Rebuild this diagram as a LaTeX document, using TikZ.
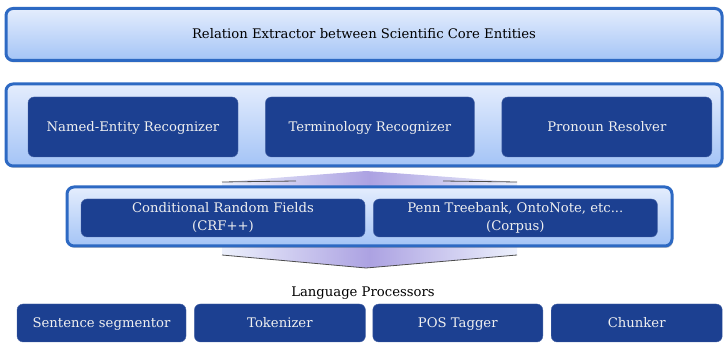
\documentclass[tikz,border=0pt]{standalone}
\usepackage{fontspec}
\setmainfont{DejaVu Serif}
\usepackage{tikz}
\usetikzlibrary{positioning, shadows, shapes.misc}
\definecolor{barline}{RGB}{45,105,195}
\definecolor{bartop}{RGB}{228,237,253}
\definecolor{barbot}{RGB}{164,196,246}
\definecolor{boxfill}{RGB}{28,64,145}
\definecolor{arrowmid}{RGB}{172,162,226}
\definecolor{arrowside}{RGB}{236,240,252}

\begin{document}
\begin{tikzpicture}
                      [x=1pt, y=-1pt, font=\fontsize{13.2}{18}\selectfont,
                       bar/.style={draw=barline, line width=3pt, rounded corners=7pt,
                                   top color=bartop, bottom color=barbot,
                                   drop shadow={shadow xshift=1pt, shadow yshift=-2pt, opacity=0.45}},
                       inbox/.style={fill=boxfill, draw=boxfill!80!white, rounded corners=6pt,
                                     text=white!94!black, align=center, inner sep=0pt},
                       oneline/.style={text height=2.1ex, text depth=.45ex},
                       procbox/.style={inbox, oneline, minimum height=38pt}]
                      \useasboundingbox (0,0) rectangle (726,344);

                      % arrow behind middle bar %
                      \shade[left color=arrowside, right color=arrowside, middle color=arrowmid]
                        (222,182) -- (366,171) -- (517,182) -- (517,255) -- (366,268) -- (222,255) -- cycle;
                      \draw[gray!60!black, line width=0.8pt] (222,182) -- (296,181);
                      \draw[gray!60!black, line width=0.8pt] (443,181) -- (517,182);
                      \draw[gray!60!black, line width=0.8pt] (222,255) -- (366,268) -- (517,255);

                      % bars %
                      \node[bar, oneline, minimum width=716pt, minimum height=52pt] (rel) at (364,34.5)
                        {Relation Extractor between Scientific Core Entities};
                      \node[bar, minimum width=716pt, minimum height=82pt] (mid) at (364,125) {};
                      \node[bar, minimum width=605pt, minimum height=59pt] (tools) at (369.5,216.5) {};

                      % nodes %
                      \node[inbox, oneline, minimum width=210pt, minimum height=60pt] (ner) at (133,127) {Named-Entity Recognizer};
                      \node[inbox, oneline, minimum width=209pt, minimum height=60pt, right=27pt of ner] (term) {Terminology Recognizer};
                      \node[inbox, oneline, minimum width=210pt, minimum height=60pt, right=27pt of term] (pron) {Pronoun Resolver};

                      \node[inbox, minimum width=284pt, minimum height=38pt] (crf) at (223,218)
                        {Conditional Random Fields\\(CRF++)};
                      \node[inbox, minimum width=284pt, minimum height=38pt, right=8pt of crf] (corpus)
                        {Penn Treebank, OntoNote, etc...\\(Corpus)};

                      \node[oneline] (lp) at (363,292) {Language Processors};
                      \node[procbox, minimum width=169pt] (sent) at (101.5,323) {Sentence segmentor};
                      \node[procbox, minimum width=171pt, right=8pt of sent] (tok) {Tokenizer};
                      \node[procbox, minimum width=170pt, right=7pt of tok] (pos) {POS Tagger};
                      \node[procbox, minimum width=171pt, right=8pt of pos] (chunk) {Chunker};
                    \end{tikzpicture}
\end{document}
